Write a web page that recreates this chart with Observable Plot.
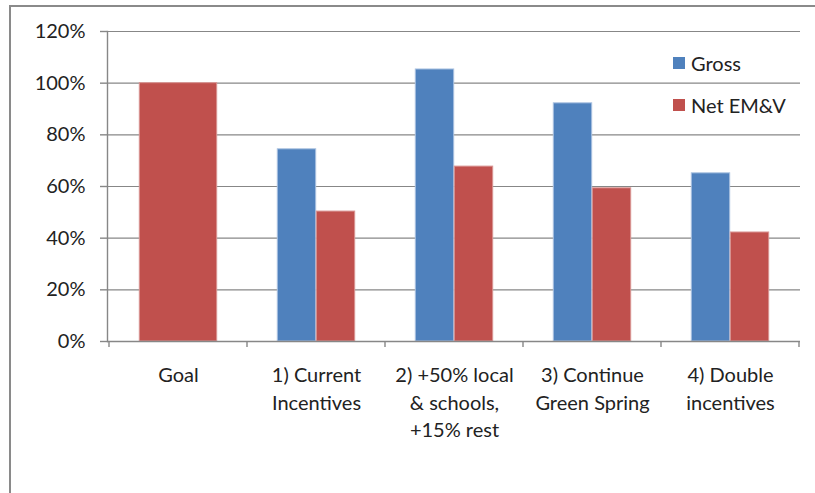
<!DOCTYPE html>
<html>
<head>
<meta charset="utf-8">
<script src="https://cdn.jsdelivr.net/npm/d3@7"></script>
<script src="https://cdn.jsdelivr.net/npm/@observablehq/plot@0.6"></script>
<style>
  html, body { margin: 0; padding: 0; background: #fff; }
  #wrap { position: relative; width: 815px; height: 493px; overflow: hidden; font-family: Lato, "Open Sans", sans-serif; }
  #bl { position: absolute; left: 9px; top: 5px; width: 2px; height: 488px; background: #8a8a8a; }
  #bt { position: absolute; left: 9px; top: 5px; width: 806px; height: 2px; background: #8a8a8a; }
  #chart { position: absolute; left: 0; top: 0; }
  .leg { position: absolute; left: 673px; font-size: 20px; color: #222; display: flex; align-items: center; white-space: nowrap; }
  .leg span.sw { display: inline-block; width: 12px; height: 12px; margin-right: 6px; }
</style>
</head>
<body>
<div id="wrap">
  <div id="bl"></div>
  <div id="bt"></div>
  <div id="chart"></div>
  <div id="legend"></div>
</div>
<script>
const categories = ["Goal", "1) Current\nIncentives", "2) +50% local\n& schools,\n+15% rest", "3) Continue\nGreen Spring", "4) Double\nincentives"];
const series = ["Gross", "Net EM&V"];
const gross = [null, 0.744, 1.053, 0.922, 0.651];
const net = [1.00, 0.503, 0.677, 0.593, 0.422];
const yTicks = [0, 0.2, 0.4, 0.6, 0.8, 1.0, 1.2];
const colors = ["#4F81BD", "#C0504D"];

const W = 815, H = 493, mL = 107, mR = 15, mT = 31, mB = 152;
const bw = (W - mL - mR) / categories.length;
const barW = 39;

const rows = [];
categories.forEach((c, i) => {
  if (gross[i] != null) rows.push({cat: c, series: "Gross", value: gross[i], paired: true});
  if (net[i] != null) rows.push({cat: c, series: "Net EM&V", value: net[i], paired: gross[i] != null});
});

const gridColor = "#878787";
const font = "Lato, 'Open Sans', sans-serif";

const plot = Plot.plot({
  width: W, height: H,
  marginLeft: mL, marginRight: mR, marginTop: mT, marginBottom: mB,
  style: {fontFamily: font, fontSize: "20px", color: "#222", background: "transparent", overflow: "visible"},
  x: {type: "band", domain: categories, padding: 0, label: null},
  y: {type: "linear", domain: [0, 1.2], label: null},
  marks: [
    Plot.gridY(yTicks, {stroke: gridColor, strokeOpacity: 1, strokeWidth: 1.2}),
    Plot.barY(rows.filter(d => d.series === "Gross"), {
      x: "cat", y: "value", fill: colors[0],
      stroke: "#a9c1e0", strokeWidth: 1,
      insetLeft: bw / 2 - barW, insetRight: bw / 2
    }),
    Plot.barY(rows.filter(d => d.series === "Net EM&V" && d.paired), {
      x: "cat", y: "value", fill: colors[1],
      stroke: "#d99593", strokeWidth: 1,
      insetLeft: bw / 2, insetRight: bw / 2 - barW
    }),
    Plot.barY(rows.filter(d => d.series === "Net EM&V" && !d.paired), {
      x: "cat", y: "value", fill: colors[1],
      stroke: "#d99593", strokeWidth: 1,
      insetLeft: (bw - 2 * barW) / 2, insetRight: (bw - 2 * barW) / 2
    }),
    Plot.ruleY([0], {stroke: gridColor, strokeWidth: 1.4}),
    Plot.frame({anchor: "left", stroke: gridColor, strokeWidth: 1.4}),
    Plot.axisX({
      tickSize: 0, tickPadding: 21, lineHeight: 1.38, fontSize: 20,
      fill: "#222", tickFormat: d => d, label: null
    }),
    Plot.axisY(yTicks, {
      tickSize: 7, tickPadding: 15, tickFormat: d3.format(".0%"), stroke: gridColor,
      strokeWidth: 1.4, fill: "#222", fontSize: 20, label: null
    })
  ]
});
document.getElementById("chart").appendChild(plot);

// boundary tick marks below the x axis, placed via the scales
const xs = plot.scale("x");
const ys = plot.scale("y");
const svg = d3.select(plot);
const bounds = categories.map(c => xs.apply(c)).concat([xs.apply(categories[categories.length - 1]) + xs.bandwidth]);
svg.append("g").selectAll("line").data(bounds).join("line")
  .attr("x1", d => d).attr("x2", d => d)
  .attr("y1", ys.apply(0)).attr("y2", ys.apply(0) + 6)
  .attr("stroke", gridColor).attr("stroke-width", 1.4);

const legend = document.getElementById("legend");
const legTops = [64, 106];
series.forEach((s, i) => {
  const div = document.createElement("div");
  div.className = "leg";
  div.style.top = (legTops[i] - 13) + "px";
  div.innerHTML = `<span class="sw" style="background:${colors[i]}"></span><span>${s.replace("&", "&amp;")}</span>`;
  legend.appendChild(div);
});
</script>
</body>
</html>
